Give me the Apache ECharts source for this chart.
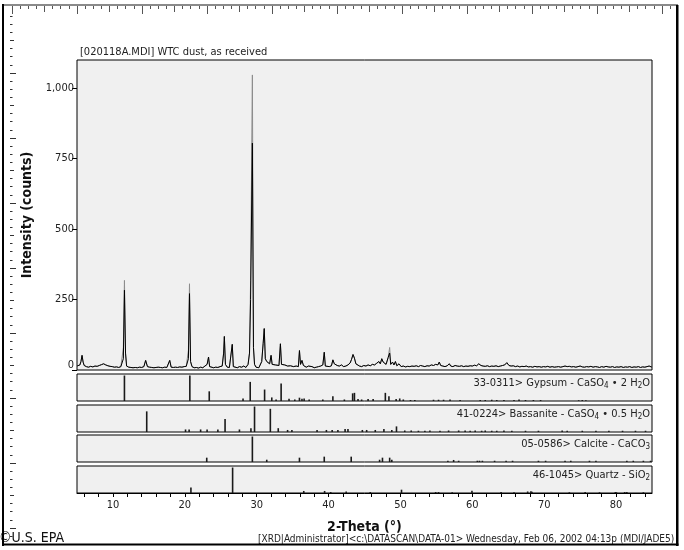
<!DOCTYPE html>
<html><head><meta charset="utf-8">
<script src="https://cdn.jsdelivr.net/npm/echarts@6/dist/echarts.min.js"></script>
<style>html,body{margin:0;padding:0;background:#fff}#c{width:684px;height:550px}</style>
</head><body><div id="c"></div>
<script>
const FONT = "'Liberation Sans Narrow','DejaVu Sans Condensed','Liberation Sans',sans-serif";
const chartTitle = '[020118A.MDI] WTC dust, as received';
const xName = '2-Theta (°)';
const yName = 'Intensity (counts)';
const xTickLabels = [10, 20, 30, 40, 50, 60, 70, 80];
const yTickLabels = [0, 250, 500, 750, 1000];

// processed scan (black)  [2-theta, counts]
const scanNet = [
[5.0,14],[5.2,12],[5.4,18],[5.55,30],[5.7,52],[5.85,28],[6.0,16],[6.3,12],[6.6,10],[6.9,13],[7.2,11],[7.5,14],[7.8,13],[8.1,16],[8.4,19],[8.7,22],[9.0,18],[9.3,15],[9.6,13],[9.9,12],
[10.2,10],[10.5,11],[10.8,9],[11.1,12],[11.3,14],[11.45,40],[11.6,283],[11.75,60],[11.9,14],[12.2,10],[12.5,9],[12.8,8],[13.1,9],[13.4,8],[13.7,10],[14.0,9],[14.3,12],[14.55,34],[14.8,12],
[15.1,10],[15.4,9],[15.7,8],[16.0,9],[16.3,10],[16.6,9],[16.9,8],[17.2,10],[17.5,9],[17.75,14],[17.9,34],[18.1,10],[18.4,9],[18.7,10],[19.0,9],[19.3,11],[19.6,10],[19.9,12],
[20.2,13],[20.5,40],[20.65,271],[20.8,30],[21.0,12],[21.3,8],[21.6,9],[21.9,7],[22.2,10],[22.5,8],[22.8,14],[23.1,20],[23.3,46],[23.45,12],[23.7,9],[24.0,8],[24.3,10],[24.6,9],[24.9,12],
[25.2,14],[25.4,60],[25.5,119],[25.65,20],[25.9,10],[26.2,9],[26.45,14],[26.6,91],[26.75,12],[27.0,10],[27.3,8],[27.6,12],[27.9,10],[28.2,14],[28.5,9],[28.8,20],[29.0,60],[29.15,250],[29.4,805],[29.55,80],[29.7,20],[29.9,10],
[30.1,14],[30.3,8],[30.5,12],[30.7,30],[30.9,95],[31.05,147],[31.2,40],[31.4,30],[31.6,35],[31.8,22],[32.0,52],[32.15,20],[32.4,14],[32.6,18],[32.8,12],[33.1,16],[33.3,93],[33.45,20],[33.7,14],[33.9,18],
[34.1,12],[34.3,14],[34.5,10],[34.7,15],[34.9,9],[35.1,12],[35.3,10],[35.5,14],[35.8,12],[35.95,69],[36.1,20],[36.3,34],[36.5,16],[36.7,12],[36.9,10],[37.2,14],[37.4,9],[37.7,12],[38.0,8],[38.3,10],[38.6,12],[38.9,14],
[39.2,18],[39.4,63],[39.55,14],[39.8,10],[40.1,12],[40.4,15],[40.6,36],[40.8,22],[41.0,24],[41.2,16],[41.5,14],[41.8,18],[42.1,12],[42.4,14],[42.7,18],[43.0,25],[43.2,38],[43.4,55],[43.6,42],[43.8,22],
[44.0,15],[44.3,14],[44.6,12],[44.9,16],[45.2,14],[45.5,18],[45.8,15],[46.1,20],[46.4,18],[46.7,24],[47.0,30],[47.2,22],[47.4,40],[47.6,28],[47.8,34],[48.0,20],[48.3,45],[48.5,60],[48.65,20],[48.9,28],
[49.1,18],[49.3,30],[49.5,15],[49.8,22],[50.1,12],[50.4,14],[50.7,11],[51.0,13],[51.3,12],[51.6,14],[51.9,13],[52.2,15],[52.5,12],[52.8,16],[53.1,14],[53.4,12],[53.7,15],[54.0,14],[54.3,18],[54.6,16],[54.9,20],
[55.2,18],[55.4,28],[55.6,16],[55.9,14],[56.2,12],[56.5,15],[56.8,22],[57.0,14],[57.3,12],[57.6,16],[57.9,14],[58.2,13],[58.5,15],[58.8,12],[59.1,14],[59.4,13],[59.7,15],[60.0,14],[60.3,17],[60.6,15],[60.9,22],
[61.2,16],[61.5,14],[61.8,13],[62.1,15],[62.4,12],[62.7,14],[63.0,13],[63.3,15],[63.6,12],[63.9,14],[64.2,16],[64.5,18],[64.8,26],[65.1,16],[65.4,14],[65.7,15],[66.0,12],[66.3,14],[66.6,11],[66.9,13],
[67.2,12],[67.5,14],[67.8,11],[68.1,12],[68.4,10],[68.7,13],[69.0,11],[69.3,12],[69.6,10],[69.9,12],[70.2,11],[70.5,13],[70.8,10],[71.1,12],[71.4,10],[71.7,11],[72.0,12],[72.3,10],[72.6,12],[72.9,14],
[73.2,12],[73.5,13],[73.8,11],[74.1,12],[74.4,10],[74.7,12],[75.0,14],[75.3,11],[75.6,10],[75.9,12],[76.2,11],[76.5,13],[76.8,10],[77.1,12],[77.4,11],[77.7,9],[78.0,12],[78.3,10],[78.6,13],[78.9,11],
[79.2,10],[79.5,12],[79.8,9],[80.1,11],[80.4,10],[80.7,12],[81.0,9],[81.3,11],[81.6,10],[81.9,12],[82.2,9],[82.5,11],[82.8,10],[83.1,12],[83.4,9],[83.7,11],[84.0,10],[84.3,12],[84.6,14],[85.0,10]
];
// raw scan (grey) where it rises above the processed one
const scanRawPeaks = [[11.45,80],[11.6,318],[20.5,70],[20.65,306],[29.15,318],[29.4,1047],[48.5,80]];

// reference stick patterns [2-theta, relative intensity]
const gypsumSticks = [[11.6,100],[20.7,100],[23.4,38],[28.1,10],[29.1,75],[31.1,45],[32.1,14],[32.7,6],[33.4,69],[34.5,9],[35.3,6],[35.95,13],[36.3,9],[36.6,10],[37.3,6],[39.2,6],[40.6,19],[42.2,6],[43.35,30],[43.6,32],[44.1,8],[44.6,6],[45.5,8],[46.2,8],[47.9,32],[48.4,19],[49.4,8],[49.9,10],[50.4,6],[51.4,4],[52.0,4],[54.6,5],[55.3,5],[56.0,5],[56.9,6],[58.3,4],[61.1,4],[61.8,4],[62.7,5],[63.4,4],[64.4,4],[65.8,4],[66.5,6],[67.4,4],[68.5,4],[69.5,4],[74.8,3],[75.3,4],[75.8,3]];
const bassaniteSticks = [[14.7,81],[20.1,10],[20.6,10],[22.2,10],[23.1,10],[24.6,10],[25.6,51],[27.6,10],[29.2,15],[29.7,100],[31.9,91],[33.0,15],[34.3,8],[34.9,8],[38.4,8],[39.7,8],[40.5,8],[41.3,8],[42.3,12],[42.7,12],[44.7,8],[45.3,8],[46.5,8],[47.7,12],[48.8,8],[49.45,22],[50.6,6],[51.5,6],[52.5,5],[53.4,5],[54.1,6],[55.5,5],[56.7,6],[58.1,6],[59.0,6],[59.7,5],[60.4,6],[61.3,5],[61.8,6],[62.7,5],[63.4,5],[64.4,6],[65.5,5],[67.4,5],[69.2,5],[72.5,6],[73.2,5],[75.3,5],[77.2,5],[79.0,5],[80.9,5],[82.7,5],[84.1,5]];
const calciteSticks = [[23.05,17],[29.4,100],[31.4,9],[35.95,17],[39.4,21],[43.15,21],[47.1,9],[47.5,17],[48.5,17],[48.8,9],[56.6,5],[57.4,8],[58.1,5],[60.7,5],[61.0,5],[61.4,5],[63.1,5],[64.7,5],[65.6,5],[69.2,5],[70.2,5],[72.9,5],[73.7,5],[76.3,5],[77.2,5],[81.5,5],[82.4,5],[83.8,5],[84.8,5]];
const quartzSticks = [[20.85,22],[26.65,100],[36.55,8],[39.45,8],[40.3,4],[42.45,6],[45.8,4],[50.15,13],[54.9,4],[55.3,4],[57.2,3],[59.95,9],[64.0,4],[65.8,3],[67.7,6],[68.15,7],[68.3,5],[73.5,3],[75.7,4],[77.7,3],[79.9,4],[80.05,3],[81.2,4],[81.5,4],[83.8,3]];

const panelLabels = [
  '33-0311> Gypsum - CaSO{s|4} • 2 H{s|2}O',
  '41-0224> Bassanite - CaSO{s|4} • 0.5 H{s|2}O',
  '05-0586> Calcite - CaCO{s|3}',
  '46-1045> Quartz - SiO{s|2}'
];
const footerLeft = '©U.S. EPA';
const footerRight = '[XRD|Administrator]<c:\\DATASCAN\\DATA-01> Wednesday, Feb 06, 2002 04:13p (MDI/JADE5)';

// ---- build ----
const rawMap = new Map(scanRawPeaks.map(p => [p[0], p[1]]));
const scanRaw = scanNet.map(p => [p[0], rawMap.has(p[0]) ? rawMap.get(p[0]) : p[1]]);

const X0 = 77, X1 = 652;
const panelTops = [374, 405, 435, 466];
const panelH = 27;
const grids = [{left: X0, top: 60, width: X1 - X0, height: 310}];
panelTops.forEach(t => grids.push({left: X0, top: t, width: X1 - X0, height: panelH}));
grids.forEach(g => Object.assign(g, {show: true, backgroundColor: '#f0f0f0', borderColor: '#000', borderWidth: 1, containLabel: false}));

const minorTicks = [];
for (let v = 6; v <= 84; v += 2) minorTicks.push(v);

const xAxes = grids.map((g, i) => {
  const last = i === grids.length - 1;
  return {
    type: 'value', gridIndex: i, min: 5, max: 85,
    axisLine: {show: last, lineStyle: {color: '#000', width: 1}},
    axisTick: {show: last, length: 4, lineStyle: {color: '#000'}, customValues: minorTicks},
    axisLabel: {show: last, customValues: xTickLabels, color: '#222', fontFamily: FONT, fontSize: 11, margin: 7},
    splitLine: {show: false},
    name: last ? xName : '', nameLocation: 'middle', nameGap: 27,
    nameTextStyle: {fontFamily: FONT, fontWeight: 'bold', fontSize: 14, color: '#111'}
  };
});
const yAxes = grids.map((g, i) => {
  if (i === 0) return {
    type: 'value', gridIndex: 0, min: 0, max: 1100,
    axisLine: {show: false},
    axisTick: {show: true, length: 5, lineStyle: {color: '#000'}, customValues: yTickLabels},
    axisLabel: {customValues: yTickLabels, color: '#222', fontFamily: FONT, fontSize: 11, margin: 3,
      formatter: v => v === 0 ? '{z|0}' : v.toLocaleString('en-US'),
      rich: {z: {fontFamily: FONT, fontSize: 11, color: '#222', padding: [0, 0, 9, 0]}}},
    splitLine: {show: false},
    name: yName, nameLocation: 'middle', nameGap: 27,
    nameTextStyle: {fontFamily: FONT, fontWeight: 'bold', fontSize: 14, color: '#111'}
  };
  return {type: 'value', gridIndex: i, min: 0, max: 106, show: false, splitLine: {show: false}};
});

const stickSets = [gypsumSticks, bassaniteSticks, calciteSticks, quartzSticks];
const series = [
  {type: 'line', xAxisIndex: 0, yAxisIndex: 0, data: scanRaw, showSymbol: false, symbol: 'none',
   lineStyle: {color: '#8c8c8c', width: 1}, silent: true},
  {type: 'line', xAxisIndex: 0, yAxisIndex: 0, data: scanNet, showSymbol: false, symbol: 'none',
   lineStyle: {color: '#000', width: 1}, silent: true}
];
stickSets.forEach((s, i) => series.push({
  type: 'bar', xAxisIndex: i + 1, yAxisIndex: i + 1, data: s, barWidth: 1.6,
  itemStyle: {color: '#1a1a1a'}, silent: true
}));

// decorations: frame + rulers + texts
const gr = [];
for (let i = -9; ; i++) {
  const x = 76.7 + i * 8.125;
  if (x > 675) break;
  if (x < 5) continue;
  const len = (i % 8 === 0) ? 8 : (i % 4 === 0 ? 6 : 3);
  gr.push({type: 'rect', shape: {x: Math.round(x), y: 6, width: 1, height: len}, style: {fill: '#555'}});
}
for (let k = -1; ; k++) {
  const y = 7.7 + k * 8.125;
  if (y > 541) break;
  if (y < 10) continue;
  const w = (k % 8 === 0) ? 6 : (k % 4 === 0 ? 4 : 2.5);
  gr.push({type: 'rect', shape: {x: 10, y: Math.round(y), width: w, height: 1}, style: {fill: '#333'}});
}
gr.push({type: 'text', left: 80, top: 47, style: {text: chartTitle, fontFamily: FONT, fontSize: 11, fill: '#222'}});
panelLabels.forEach((t, i) => gr.push({
  type: 'text', x: 650, y: panelTops[i] + 9,
  style: {text: t, align: 'right', verticalAlign: 'middle', fontFamily: FONT, fontSize: 11, fill: '#222', lineHeight: 14,
    rich: {s: {fontFamily: FONT, fontSize: 8, fill: '#222', verticalAlign: 'bottom', lineHeight: 14}}},
  z: 100
}));
gr.push({type: 'text', x: -1, y: 538, style: {text: footerLeft, verticalAlign: 'middle', fontFamily: FONT, fontSize: 14, fill: '#111'}});
gr.push({type: 'text', x: 258, y: 539, style: {text: footerRight, verticalAlign: 'middle', fontFamily: FONT, fontSize: 10, fill: '#222'}});
// frame
gr.push({type: 'rect', shape: {x: 678, y: 0, width: 6, height: 550}, style: {fill: '#fff'}, z: 200});
gr.push({type: 'rect', shape: {x: 2, y: 4, width: 676, height: 2}, style: {fill: '#8a8a8a'}, z: 201});
gr.push({type: 'rect', shape: {x: 2, y: 4, width: 2, height: 542}, style: {fill: '#000'}, z: 201});
gr.push({type: 'rect', shape: {x: 676, y: 5, width: 2.5, height: 541}, style: {fill: '#000'}, z: 201});
gr.push({type: 'rect', shape: {x: 2, y: 543.5, width: 676.5, height: 2}, style: {fill: '#000'}, z: 201});

const chart = echarts.init(document.getElementById('c'), null, {renderer: 'canvas'});
chart.setOption({
  animation: false,
  backgroundColor: '#fff',
  grid: grids, xAxis: xAxes, yAxis: yAxes, series: series,
  graphic: {elements: gr}
});
</script></body></html>
